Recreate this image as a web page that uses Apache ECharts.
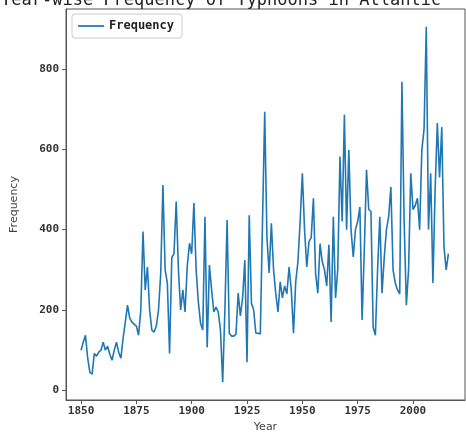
<!DOCTYPE html>
<html>
<head>
<meta charset="utf-8">
<script src="https://cdn.jsdelivr.net/npm/echarts@6/dist/echarts.min.js"></script>
<style>
html,body{margin:0;padding:0;background:#fff;}
#chart{width:466px;height:442px;}
</style>
</head>
<body>
<div id="chart"></div>
<script>
// 年份 (1850 - 2016)
var years = [];
for (var y = 1850; y <= 2016; y++) { years.push(y); }

// 每年频次
var freq = [
	100, 120, 137, 80, 45, 40, 92, 85, 95, 100,
	120, 100, 110, 90, 75, 100, 120, 95, 80, 130,
	170, 212, 180, 170, 165, 160, 137, 200, 395, 250,
	307, 200, 150, 145, 160, 200, 290, 511, 300, 267,
	92, 330, 340, 470, 300, 200, 250, 195, 310, 366,
	340, 466, 300, 220, 167, 150, 432, 107, 312, 250,
	195, 207, 195, 150, 20, 200, 424, 142, 135, 135,
	140, 242, 185, 230, 324, 70, 436, 217, 200, 142,
	142, 140, 420, 693, 380, 292, 416, 300, 240, 195,
	270, 230, 260, 240, 307, 250, 142, 270, 320, 420,
	540, 400, 307, 370, 380, 478, 290, 242, 365, 320,
	300, 260, 362, 170, 432, 230, 300, 582, 420, 686,
	400, 598, 400, 332, 400, 420, 456, 175, 350, 549,
	450, 445, 157, 137, 300, 432, 242, 330, 400, 432,
	506, 300, 267, 250, 240, 768, 420, 212, 300, 540,
	450, 460, 478, 400, 598, 650, 905, 400, 540, 267,
	500, 665, 530, 655, 357, 300, 340
];

var xTicks = [1850, 1875, 1900, 1925, 1950, 1975, 2000];
var yTicks = [0, 200, 400, 600, 800];

var seriesData = [];
for (var i = 0; i < years.length; i++) {
	seriesData.push([years[i], freq[i]]);
}

var myChart = echarts.init(document.getElementById('chart'));
myChart.setOption({
	animation: false,
	title: {
		text: 'Year-wise Frequency of Typhoons in Atlantic',
		left: -4,
		top: -13,
		textStyle: {
			fontFamily: 'DejaVu Sans Mono',
			fontSize: 17,
			fontWeight: 'normal',
			color: '#222'
		}
	},
	legend: {
		left: 72,
		top: 14,
		data: ['Frequency'],
		icon: 'path://M0,0 L30,0 L30,2 L0,2 Z',
		itemWidth: 26,
		itemHeight: 2,
		itemGap: 6,
		padding: [6, 8, 6, 6],
		backgroundColor: '#fff',
		borderColor: '#ccc',
		borderWidth: 1,
		borderRadius: 3,
		textStyle: {
			fontFamily: 'DejaVu Sans Mono',
			fontWeight: 'bold',
			fontSize: 12,
			color: '#222'
		}
	},
	grid: {
		left: 66,
		right: 1,
		top: 9,
		bottom: 42,
		show: true,
		borderColor: '#555',
		borderWidth: 1,
		containLabel: false
	},
	xAxis: {
		type: 'value',
		min: 1843.2,
		max: 2023.5,
		name: 'Year',
		nameLocation: 'middle',
		nameGap: 22,
		nameTextStyle: { fontFamily: 'DejaVu Sans', fontSize: 11, color: '#444' },
		splitLine: { show: false },
		axisLine: { show: true, onZero: false, lineStyle: { color: '#555' } },
		axisTick: { show: true, length: 4, customValues: xTicks, lineStyle: { color: '#555' } },
		axisLabel: {
			customValues: xTicks,
			formatter: function (v) { return String(v); },
			margin: 6,
			fontFamily: 'DejaVu Sans Mono',
			fontWeight: 'bold',
			fontSize: 11,
			color: '#333'
		}
	},
	yAxis: {
		type: 'value',
		min: -24,
		max: 949,
		name: 'Frequency',
		nameLocation: 'middle',
		nameGap: 46,
		nameTextStyle: { fontFamily: 'DejaVu Sans', fontSize: 11, color: '#444' },
		splitLine: { show: false },
		axisLine: { show: true, onZero: false, lineStyle: { color: '#555' } },
		axisTick: { show: true, length: 4, customValues: yTicks, lineStyle: { color: '#555' } },
		axisLabel: {
			customValues: yTicks,
			margin: 7,
			fontFamily: 'DejaVu Sans Mono',
			fontWeight: 'bold',
			fontSize: 11,
			color: '#333'
		}
	},
	series: [{
		name: 'Frequency',
		type: 'line',
		data: seriesData,
		showSymbol: false,
		symbol: 'none',
		lineStyle: { color: '#1f77b4', width: 1.6 },
		itemStyle: { color: '#1f77b4' }
	}]
});
</script>
</body>
</html>
